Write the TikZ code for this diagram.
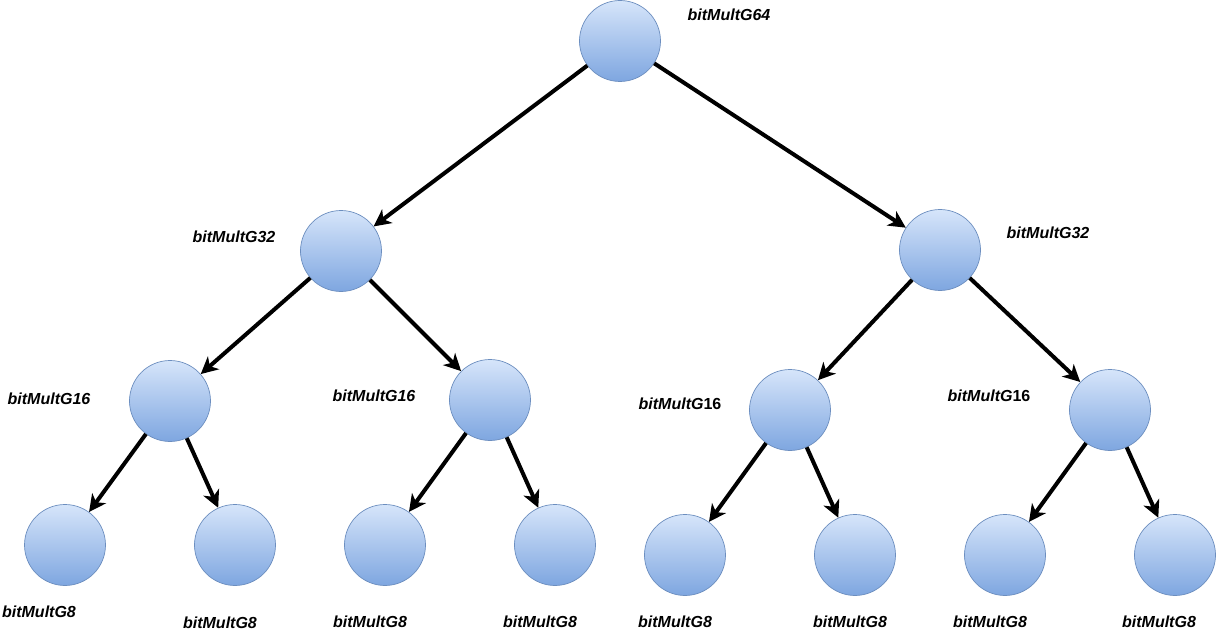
\documentclass[tikz,border=0pt]{standalone}
\usepackage{fontspec}
\setmainfont{Liberation Sans}
\usetikzlibrary{arrows.meta}
\definecolor{balltop}{HTML}{D6E5FA}
\definecolor{ballbot}{HTML}{7EA6E0}
\definecolor{ballrim}{HTML}{6C8EBF}
\begin{document}
\begin{tikzpicture}[x=1pt,y=-1pt,
  ball/.style={circle, minimum size=81pt, inner sep=0pt, draw=ballrim, line width=0.7pt,
    top color=balltop, bottom color=ballbot},
  lab/.style={font=\fontsize{16}{16}\selectfont\bfseries\itshape, inner sep=0pt},
  edge/.style={line width=4pt, -{Stealth[length=17pt,width=17pt,inset=5pt]}}]
\useasboundingbox (0,0) rectangle (1231,639);
% tree nodes
\node[ball] (r)   at (620,41) {};
\node[ball] (a)   at (341,251) {};
\node[ball] (b)   at (940,250) {};
\node[ball] (aa)  at (170,401) {};
\node[ball] (ab)  at (490,400) {};
\node[ball] (ba)  at (790,410) {};
\node[ball] (bb)  at (1110,410) {};
\node[ball] (aaa) at (65,545) {};
\node[ball] (aab) at (235,545) {};
\node[ball] (aba) at (385,545) {};
\node[ball] (abb) at (555,545) {};
\node[ball] (baa) at (685,555) {};
\node[ball] (bab) at (855,555) {};
\node[ball] (bba) at (1005,555) {};
\node[ball] (bbb) at (1175,555) {};
% connectors
\foreach \p/\c in {r/a, r/b, a/aa, a/ab, b/ba, b/bb, aa/aaa, aa/aab, ab/aba, ab/abb,
                   ba/baa, ba/bab, bb/bba, bb/bbb}
  \draw[edge] (\p) -- (\c);
% labels
\node[lab] (lr)  at (729,15) {bitMultG64};
\node[lab] (la)  at (234,237) {bitMultG32};
\node[lab] (lb)  at (1048,233) {bitMultG32};
\node[lab] (laa) at (49,399) {bitMultG16};
\node[lab] (lab) at (374,396) {bitMultG16};
\node[lab] (lba) at (680,404) {bitMultG{\upshape 16}};
\node[lab] (lbb) at (989,396) {bitMultG{\upshape 16}};
\node[lab] (l1) at (39,612) {bitMultG8};
\node[lab] (l2) at (220,623) {bitMultG8};
\node[lab] (l3) at (370,622) {bitMultG8};
\node[lab] (l4) at (540,622) {bitMultG8};
\node[lab] (l5) at (675,622) {bitMultG8};
\node[lab] (l6) at (850,622) {bitMultG8};
\node[lab] (l7) at (990,622) {bitMultG8};
\node[lab] (l8) at (1159,622) {bitMultG8};
\end{tikzpicture}
\end{document}
